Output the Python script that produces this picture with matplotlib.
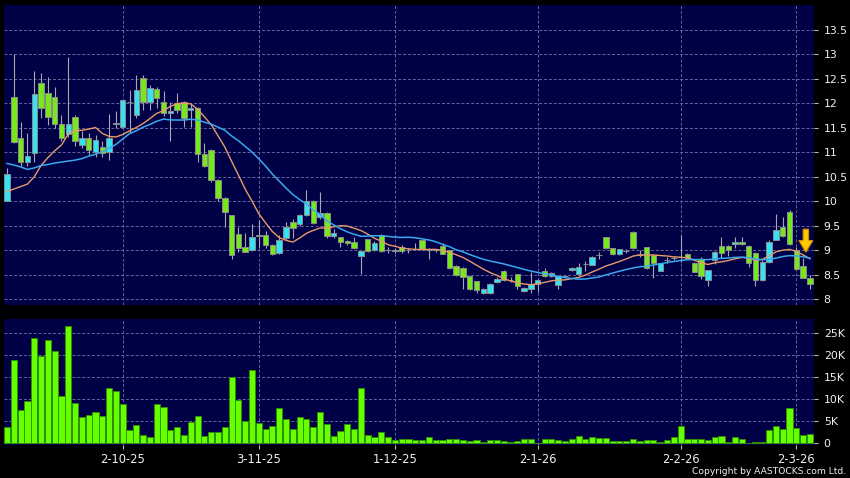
import numpy as np
import pandas as pd
import matplotlib
matplotlib.use("Agg")
import matplotlib.pyplot as plt
from matplotlib.patches import FancyArrow

# ---------------- data ----------------
opens = [10.01, 12.12, 11.29, 10.80, 10.98, 12.41, 12.21, 12.12, 11.57, 11.37,
         11.71, 11.15, 11.30, 11.00, 11.10, 11.00, 11.58, 11.51, 12.03, 11.76,
         12.51, 12.03, 12.29, 12.03, 11.80, 12.00, 12.03, 11.86, 11.90, 10.96,
         11.05, 10.43, 10.06, 9.72, 9.33, 9.06, 9.00, 9.29, 9.31, 9.10,
         8.95, 9.26, 9.58, 9.53, 9.72, 10.01, 9.67, 9.77, 9.29, 9.27,
         9.19, 9.17, 8.89, 9.23, 9.00, 9.32, 9.00, 8.98, 9.06, 9.00,
         9.02, 9.21, 9.00, 9.00, 9.09, 9.00, 8.68, 8.64, 8.47, 8.37,
         8.12, 8.12, 8.35, 8.58, 8.40, 8.51, 8.16, 8.22, 8.31, 8.58,
         8.47, 8.29, 8.47, 8.59, 8.51, 8.72, 8.70, 8.90, 9.27, 9.04,
         8.92, 8.99, 9.38, 8.90, 9.06, 8.90, 8.58, 8.80, 8.84, 8.86,
         8.92, 8.74, 8.83, 8.39, 8.81, 9.09, 9.09, 9.12, 9.17, 9.09,
         8.95, 8.39, 8.76, 9.21, 9.48, 9.79, 9.00, 8.68, 8.44]
highs = [10.67, 13.00, 11.61, 11.39, 12.66, 12.62, 12.53, 12.34, 11.75, 12.95,
         11.75, 11.44, 11.39, 11.35, 11.22, 11.78, 11.85, 12.07, 12.26, 12.58,
         12.58, 12.38, 12.34, 12.24, 12.03, 12.20, 12.05, 12.00, 11.92, 11.18,
         11.06, 10.45, 10.08, 9.73, 9.48, 9.35, 9.53, 9.62, 9.40, 9.12,
         9.31, 9.58, 9.64, 9.75, 10.23, 10.02, 10.19, 9.78, 9.43, 9.28,
         9.22, 9.27, 8.99, 9.24, 9.18, 9.33, 9.07, 9.04, 9.10, 9.05,
         9.15, 9.22, 9.04, 9.03, 9.15, 9.01, 8.70, 8.66, 8.48, 8.38,
         8.23, 8.33, 8.45, 8.59, 8.45, 8.52, 8.25, 8.56, 8.41, 8.63,
         8.56, 8.48, 8.48, 8.66, 8.75, 8.78, 8.88, 8.97, 9.28, 9.05,
         9.03, 9.02, 9.40, 9.00, 9.07, 8.91, 8.75, 8.86, 8.88, 9.31,
         8.95, 8.76, 8.86, 8.60, 8.99, 9.27, 9.10, 9.28, 9.27, 9.10,
         8.96, 8.80, 9.20, 9.75, 9.67, 9.83, 9.06, 8.85, 8.50]
lows = [10.00, 11.18, 10.71, 10.71, 10.81, 11.70, 11.56, 11.49, 11.22, 11.32,
        11.12, 11.08, 10.94, 10.90, 10.91, 10.84, 11.49, 11.49, 11.40, 11.70,
        11.86, 11.86, 11.90, 11.73, 11.22, 11.80, 11.52, 11.52, 10.81, 10.69,
        10.40, 10.00, 9.48, 8.83, 8.97, 8.97, 8.98, 9.04, 9.04, 8.90,
        8.93, 9.22, 9.25, 9.50, 9.70, 9.53, 9.63, 9.25, 9.26, 9.07,
        9.11, 9.02, 8.52, 8.97, 8.99, 8.96, 8.95, 8.95, 8.95, 8.95,
        9.00, 9.00, 8.83, 8.97, 8.92, 8.62, 8.48, 8.22, 8.20, 8.12,
        8.11, 8.11, 8.33, 8.38, 8.35, 8.22, 8.15, 8.12, 8.15, 8.46,
        8.46, 8.22, 8.46, 8.58, 8.50, 8.58, 8.69, 8.82, 9.03, 8.90,
        8.90, 8.95, 9.03, 8.86, 8.62, 8.43, 8.57, 8.75, 8.80, 8.77,
        8.84, 8.55, 8.41, 8.27, 8.72, 8.85, 8.88, 9.05, 9.10, 8.66,
        8.27, 8.38, 8.75, 9.20, 9.28, 9.11, 8.60, 8.43, 8.22]
closes = [10.56, 11.21, 10.80, 10.92, 12.19, 11.90, 11.71, 11.57, 11.29, 11.57,
          11.23, 11.30, 11.04, 11.25, 10.98, 11.29, 11.60, 12.07, 12.03, 12.27,
          12.03, 12.31, 12.10, 11.80, 11.85, 11.86, 11.70, 11.91, 10.96, 10.71,
          10.43, 10.06, 9.79, 8.90, 9.04, 8.97, 9.27, 9.32, 9.10, 8.93,
          9.22, 9.48, 9.45, 9.72, 10.01, 9.56, 9.77, 9.29, 9.36, 9.16,
          9.14, 9.04, 8.99, 8.99, 9.15, 8.99, 9.01, 9.00, 8.99, 9.00,
          9.02, 9.03, 9.00, 9.00, 8.93, 8.63, 8.49, 8.46, 8.22, 8.18,
          8.22, 8.32, 8.42, 8.39, 8.40, 8.27, 8.24, 8.32, 8.40, 8.47,
          8.54, 8.47, 8.47, 8.64, 8.66, 8.73, 8.87, 8.90, 9.04, 8.92,
          9.02, 8.99, 9.04, 8.91, 8.63, 8.74, 8.74, 8.81, 8.85, 8.87,
          8.85, 8.56, 8.47, 8.59, 8.96, 8.95, 9.00, 9.17, 9.12, 8.75,
          8.39, 8.76, 9.17, 9.42, 9.29, 9.12, 8.61, 8.44, 8.32]
volumes_k = [3.6, 18.75, 7.5, 9.6, 23.9, 19.7, 23.4, 20.9, 10.65, 26.6,
             9.15, 5.85, 6.4, 7.0, 6.1, 12.45, 11.85, 9.0, 3.0, 4.05,
             1.8, 1.4, 8.8, 8.3, 3.0, 3.7, 1.95, 4.8, 6.2, 1.7,
             2.55, 2.55, 3.75, 15.1, 9.8, 5.0, 16.5, 4.5, 3.2, 3.9,
             7.95, 5.55, 3.2, 5.85, 5.4, 3.7, 7.05, 4.35, 1.6, 2.8,
             4.3, 3.2, 12.6, 1.9, 1.4, 2.5, 1.35, 0.7, 1.0, 1.0,
             0.7, 0.8, 1.35, 0.8, 0.75, 1.05, 1.0, 0.75, 0.6, 0.75,
             0.3, 0.7, 0.7, 0.6, 0.25, 0.5, 0.9, 1.0, 0.2, 1.1,
             1.05, 0.7, 0.6, 0.9, 1.65, 1.05, 1.5, 1.3, 1.2, 0.6,
             0.6, 0.6, 1.0, 0.6, 0.7, 0.7, 0.4, 0.7, 1.4, 3.9,
             1.1, 1.05, 1.05, 0.75, 1.35, 1.6, 0.4, 1.35, 1.1, 0.05,
             0.3, 0.25, 3.0, 4.0, 3.2, 7.95, 3.4, 2.0, 2.1]
# moving-average values visible at the start of the window (they depend on earlier history)
ma10_head = [10.20, 10.25, 10.30, 10.35, 10.50, 10.73, 10.89, 11.03, 11.15]
ma20_head = [10.77, 10.74, 10.70, 10.65, 10.68, 10.73, 10.75, 10.78, 10.80, 10.82,
             10.84, 10.87, 10.92, 10.96, 11.01, 11.08, 11.16, 11.27, 11.38]

tick_idx = [17, 37, 57, 78, 99, 116]
tick_labels = ['2-10-25', '3-11-25', '1-12-25', '2-1-26', '2-2-26', '2-3-26']
price_ticks = [8, 8.5, 9, 9.5, 10, 10.5, 11, 11.5, 12, 12.5, 13, 13.5]
price_tick_labels = ['8', '8.5', '9', '9.5', '10', '10.5', '11', '11.5', '12', '12.5', '13', '13.5']
vol_ticks = [0, 5, 10, 15, 20, 25]
vol_tick_labels = ['0', '5K', '10K', '15K', '20K', '25K']
arrow_top = 9.43
arrow_tip = 8.96
copyright_text = 'Copyright by AASTOCKS.com Ltd.'

# ---------------- derived series ----------------
n = len(closes)
x = np.arange(n)
o = np.array(opens); c = np.array(closes); h = np.array(highs); l = np.array(lows)
cs = pd.Series(c)
ma10 = cs.rolling(10).mean().to_numpy()
ma20 = cs.rolling(20).mean().to_numpy()
ma10[:len(ma10_head)] = ma10_head
ma20[:len(ma20_head)] = ma20_head

# ---------------- styling ----------------
BG = '#000046'
GRID = '#66669a'
GREEN = '#77e81c'
CYAN = '#33e4f4'
EDGE = '#8c8c8c'
WICK = '#a8a8a8'
VOL = '#66ff00'
VOL_EDGE = '#2f8f00'
TXT = '#f0f0f0'

fig = plt.figure(figsize=(8.5, 4.78), dpi=100, facecolor='black')
W, H = 850.0, 478.0
ax = fig.add_axes([4 / W, 1 - 305 / H, 810 / W, 300 / H])
axv = fig.add_axes([4 / W, 1 - 444.5 / H, 810 / W, 125.5 / H])

for a in (ax, axv):
    a.set_facecolor(BG)
    for s in a.spines.values():
        s.set_visible(False)
    a.set_xlim(-0.45, 118.6)
    a.yaxis.tick_right()
    a.tick_params(axis='y', colors=TXT, labelsize=7.8, length=3, width=0.8, pad=4)
    a.tick_params(axis='y', which='both', color='#bbbbbb')
    a.set_xticks(tick_idx)
    a.grid(True, color=GRID, linestyle=(0, (3, 2)), linewidth=0.7)
    a.set_axisbelow(True)

# price panel
ax.set_ylim(7.884, 14.004)
ax.set_yticks(price_ticks)
ax.set_yticklabels(price_tick_labels)
ax.tick_params(axis='x', length=0, labelbottom=False)

up = c >= o
body_bottom = np.minimum(o, c)
body_h = np.abs(c - o)
colors = [CYAN if u else GREEN for u in up]
ax.vlines(x, l, h, color=WICK, linewidth=0.8, zorder=2)
ax.bar(x, body_h, bottom=body_bottom, width=0.8, color=colors,
       edgecolor=EDGE, linewidth=0.7, zorder=3)
ax.plot(x, ma10, color='#e89a6a', linewidth=1.0, zorder=4)
ax.plot(x, ma20, color='#3aa8ec', linewidth=1.1, zorder=4)

arr_x = x[-1] - 0.6
ax.add_patch(FancyArrow(arr_x, arrow_top, 0, -(arrow_top - arrow_tip),
                        width=0.8, head_width=2.05, head_length=0.24,
                        length_includes_head=True, facecolor='#ffc800',
                        edgecolor='#d08a00', linewidth=0.8, zorder=6))

# volume panel
axv.set_ylim(-0.25, 28.1)
axv.set_yticks(vol_ticks)
axv.set_yticklabels(vol_tick_labels)
axv.bar(x, volumes_k, width=0.9, color=VOL, edgecolor=VOL_EDGE, linewidth=0.6, zorder=3)
axv.set_xticklabels(tick_labels)
axv.tick_params(axis='x', colors=TXT, labelsize=8.3, length=3, width=0.8, pad=3)
axv.tick_params(axis='x', color='#bbbbbb')

fig.text(846 / W, 1 - 471.5 / H, copyright_text, color=TXT, fontsize=6.6,
         ha='right', va='center')

fig.savefig('out.png', dpi=100, facecolor='black')
